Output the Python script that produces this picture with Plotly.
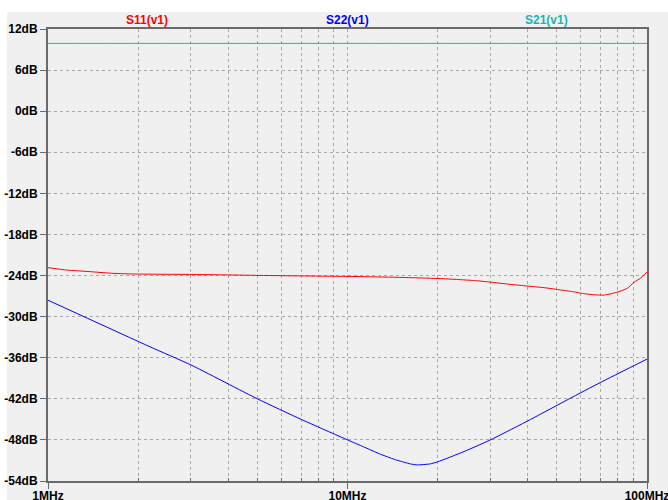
import plotly.graph_objects as go

# Frequency points (MHz) and S-parameter magnitudes (dB)
freq_s11 = [1, 1.155, 1.38, 1.61, 1.9, 3.2, 5.5, 11, 16, 20.6, 23.8, 26.8, 29.6, 34.3,
            39.2, 45.9, 51.4, 56.5, 60.5, 66, 72, 80, 86, 90.5, 95, 100]
s11_db = [-22.85, -23.2, -23.43, -23.65, -23.77, -23.85, -24.0, -24.15, -24.3, -24.45,
          -24.6, -24.75, -24.93, -25.25, -25.5, -25.8, -26.1, -26.35, -26.6, -26.8,
          -26.85, -26.4, -25.85, -25.0, -24.4, -23.5]

freq_s22 = [1, 2.19, 3, 5, 7, 10, 11.3, 12.9, 14.6, 16.2, 17.1, 18.9, 20, 24.5, 30,
            40.9, 55, 70, 100]
s22_db = [-27.6, -34.4, -37.05, -42.0, -45.0, -48.0, -49.0, -50.1, -50.95, -51.5,
          -51.65, -51.5, -51.2, -49.7, -48.0, -45.0, -42.0, -39.6, -36.2]

freq_s21 = [1, 10, 100]
s21_db = [9.9, 9.9, 9.9]

y_ticks = [12, 6, 0, -6, -12, -18, -24, -30, -36, -42, -48, -54]
y_labels = [f"{v}dB" for v in y_ticks]
x_ticks = [1, 10, 100]
x_labels = ["1MHz", "10MHz", "100MHz"]
x_minor = [m * d for d in (1, 10) for m in range(2, 10)]

series_names = ["S11(v1)", "S22(v1)", "S21(v1)"]
series_colors = ["#FF0000", "#0000FF", "#1CB4B4"]

W, H = 668, 500
L, R, T, B = 48, 21, 29, 19
pw, ph = W - L - R, H - T - B

fig = go.Figure()
for fx, fy, col in ((freq_s21, s21_db, series_colors[2]),
                    (freq_s11, s11_db, series_colors[0]),
                    (freq_s22, s22_db, series_colors[1])):
    fig.add_trace(go.Scatter(x=fx, y=fy, mode="lines", line_shape="spline",
                             line=dict(color=col, width=1, smoothing=0.5),
                             showlegend=False, hoverinfo="skip"))

font = dict(family="Liberation Sans, Arial, sans-serif", size=12, color="#000000")
axis_col = "#6a6a6a"
grid_col = "#a8a8a8"

fig.update_layout(
    width=W, height=H,
    margin=dict(l=L, r=R, t=T, b=B, pad=0, autoexpand=False),
    paper_bgcolor="#FFFFFF",
    plot_bgcolor="rgba(0,0,0,0)",
    font=font,
    xaxis=dict(type="log", range=[0, 2], tickvals=x_ticks, ticktext=x_labels,
               automargin=False, ticklabeloverflow="allow", ticklabelstandoff=-3,
               showline=True, linecolor=axis_col, linewidth=2, mirror=True,
               ticks="outside", ticklen=6, tickcolor=axis_col, tickwidth=1,
               showgrid=True, gridcolor=grid_col, griddash="3px,3px", gridwidth=1,
               tickfont=dict(size=12, weight="bold"),
               minor=dict(tickvals=x_minor, ticks="inside", ticklen=3,
                          tickcolor=axis_col, showgrid=True, gridcolor=grid_col,
                          griddash="3px,3px", gridwidth=1),
               zeroline=False, fixedrange=True),
    yaxis=dict(range=[-54, 12], tickvals=y_ticks, ticktext=y_labels,
               automargin=False, ticklabeloverflow="allow",
               showline=True, linecolor=axis_col, linewidth=2, mirror=True,
               ticks="outside", ticklen=6, tickcolor=axis_col, tickwidth=1,
               showgrid=True, gridcolor=grid_col, griddash="3px,3px", gridwidth=1,
               tickfont=dict(size=12, weight="bold"),
               zeroline=False, fixedrange=True),
    shapes=[dict(type="rect", xref="paper", yref="paper", layer="below",
                 x0=(7 - L) / pw, x1=(W - L) / pw,
                 y0=(T + ph - H) / ph, y1=(T + ph - 12) / ph,
                 fillcolor="#F0F0F0", line=dict(width=0))],
)

# Trace titles across the top
title_x = [147, 347, 546]
for name, col, px in zip(series_names, series_colors, title_x):
    fig.add_annotation(text=name, xref="paper", yref="paper",
                       x=(px - L) / pw, y=(T + ph - 20) / ph,
                       xanchor="center", yanchor="middle", showarrow=False,
                       font=dict(size=12, color=col, weight="bold"))

fig.write_html("out.html")
